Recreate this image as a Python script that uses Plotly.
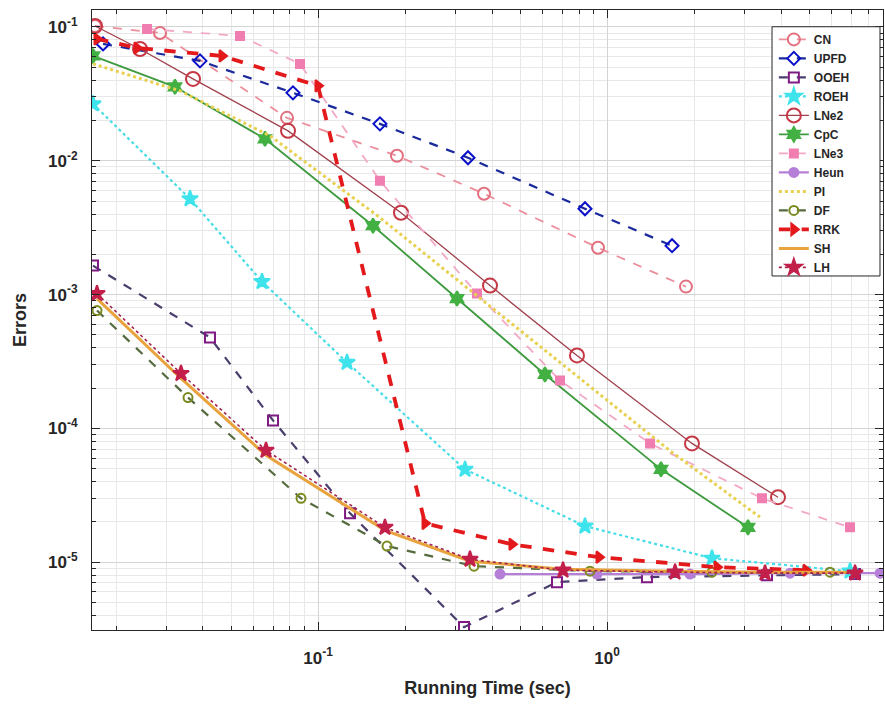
import plotly.graph_objects as go

# ---------------- data ----------------
cn_t   = [0.01692, 0.0284, 0.07812, 0.1876, 0.3754, 0.9309, 1.876]
cn_e   = [0.1017, 0.0902, 0.02094, 0.0109, 5.67e-3, 2.24e-3, 1.147e-3]

upfd_t = [0.01804, 0.03906, 0.08193, 0.1638, 0.3304, 0.8391, 1.679]
upfd_e = [0.0747, 0.0558, 0.0322, 0.01888, 0.01053, 4.38e-3, 2.32e-3]

ooeh_t = [0.01665, 0.04229, 0.06988, 0.1291, 0.3200, 0.6714, 1.375, 3.578, 7.214]
ooeh_e = [1.646e-3, 4.78e-4, 1.147e-4, 2.32e-5, 3.27e-6, 7.09e-6, 7.73e-6, 8.00e-6, 8.14e-6]

roeh_t = [0.01665, 0.03607, 0.0640, 0.1260, 0.3226, 0.8391, 2.308, 6.932]
roeh_e = [0.0266, 5.20e-3, 1.25e-3, 3.11e-4, 4.94e-5, 1.86e-5, 1.07e-5, 8.57e-6]

lne2_t = [0.01692, 0.02422, 0.03694, 0.07875, 0.1937, 0.3937, 0.7872, 1.968, 3.906]
lne2_e = [0.1017, 0.0685, 0.0409, 0.01674, 4.09e-3, 1.167e-3, 3.51e-4, 7.72e-5, 3.06e-5]

cpc_t  = [0.01665, 0.0320, 0.06555, 0.155, 0.3027, 0.6101, 1.538, 3.075]
cpc_e  = [0.0608, 0.0357, 0.01459, 3.27e-3, 9.34e-4, 2.53e-4, 4.94e-5, 1.82e-5]

lne3_t = [0.02561, 0.05372, 0.08664, 0.1638, 0.3549, 0.6877, 1.409, 3.438, 6.932]
lne3_e = [0.0966, 0.0857, 0.0530, 7.09e-3, 1.017e-3, 2.28e-4, 7.72e-5, 3.00e-5, 1.82e-5]

heun_t = [0.4264, 0.9235, 1.937, 4.298, 8.804]
heun_e = [8.14e-6, 8.14e-6, 8.14e-6, 8.28e-6, 8.28e-6]

pi_t   = [0.01665, 0.03331, 0.06822, 0.1638, 0.3304, 0.6877, 1.679, 3.383]
pi_e   = [0.0530, 0.0333, 0.01537, 3.76e-3, 1.109e-3, 3.11e-4, 6.62e-5, 2.17e-5]

df_t   = [0.01719, 0.0355, 0.08734, 0.1733, 0.3466, 0.8733, 2.308, 5.91]
df_e   = [7.60e-4, 1.70e-4, 3.00e-5, 1.32e-5, 9.34e-6, 8.57e-6, 8.42e-6, 8.42e-6]

rrk_t  = [0.01719, 0.02364, 0.04655, 0.1, 0.2346, 0.469, 0.9382, 2.402, 4.883]
rrk_e  = [0.0814, 0.0697, 0.0608, 0.0363, 1.95e-5, 1.36e-5, 1.09e-5, 9.18e-6, 8.71e-6]

sh_t   = [0.01719, 0.03357, 0.06608, 0.1705, 0.3357, 0.7043, 1.720, 3.522, 7.214]
sh_e   = [9.34e-4, 2.36e-4, 6.29e-5, 1.73e-5, 1.017e-5, 8.87e-6, 8.57e-6, 8.42e-6, 8.42e-6]

lh_t   = [0.01719, 0.03357, 0.06608, 0.1705, 0.3357, 0.7043, 1.720, 3.522, 7.214]
lh_e   = [1.017e-3, 2.57e-4, 6.85e-5, 1.82e-5, 1.05e-5, 8.71e-6, 8.42e-6, 8.28e-6, 8.28e-6]

y_tick_vals = [1e-5, 1e-4, 1e-3, 1e-2, 1e-1]
y_tick_text = ["10<sup>-5</sup>", "10<sup>-4</sup>", "10<sup>-3</sup>", "10<sup>-2</sup>", "10<sup>-1</sup>"]
x_tick_vals = [1e-1, 1e0]
x_tick_text = ["10<sup>-1</sup>", "10<sup>0</sup>"]

# ---------------- figure ----------------
fig = go.Figure()

def add(name, t, e, color, dash, width, symbol=None, msize=8, mcolor=None, mline=None, filled=False):
    mode = "lines+markers" if symbol else "lines"
    marker = None
    if symbol:
        marker = dict(symbol=symbol, size=msize,
                      color=(mcolor if filled else "rgba(255,255,255,0)"),
                      line=dict(color=mline or mcolor or color, width=2))
    fig.add_trace(go.Scatter(x=t, y=e, name=name, mode=mode,
                             line=dict(color=color, dash=dash, width=width),
                             marker=marker))

add("CN",   cn_t,   cn_e,   "#EC8F9C", "dash", 1.8, "circle", 12, mline="#E2707F")
add("UPFD", upfd_t, upfd_e, "#1A2A9C", "dash", 2.2, "diamond", 10, mline="#0A10C8")
add("OOEH", ooeh_t, ooeh_e, "#4B3E6E", "dash", 2.2, "square", 10, mline="#7E1A82")
add("ROEH", roeh_t, roeh_e, "#45DDE6", "dot", 2.2, "star", 12, mcolor="#3FE3EC", filled=True)
add("LNe2", lne2_t, lne2_e, "#A0404C", "solid", 1.3, "circle", 14, mline="#C53845")
add("CpC",  cpc_t,  cpc_e,  "#3E9A3E", "solid", 1.8, "hexagram", 11, mcolor="#42B042", filled=True)
add("LNe3", lne3_t, lne3_e, "#F2A8C6", "dash", 1.8, "square", 8, mcolor="#F07EB0", filled=True)
add("Heun", heun_t, heun_e, "#B57FD8", "solid", 2.2, "circle", 9, mcolor="#B57FD8", filled=True)
add("PI",   pi_t,   pi_e,   "#E8D050", "dot", 3.0)
add("DF",   df_t,   df_e,   "#556B3F", "dash", 2.2, "circle", 9, mline="#7B8A1E")
add("RRK",  rrk_t,  rrk_e,  "#E3191C", "dash", 3.8, "triangle-right", 10, mcolor="#E3191C", filled=True)
add("SH",   sh_t,   sh_e,   "#E8A33C", "solid", 3.0)
add("LH",   lh_t,   lh_e,   "#A3204E", "dot", 1.6, "star", 12, mcolor="#C2204A", filled=True)

axis_common = dict(
    type="log", showline=True, linecolor="#262626", linewidth=1.2, mirror="allticks",
    ticks="inside", ticklen=8, tickcolor="#262626", automargin=False,
    showgrid=True, gridcolor="#D4D4D4", gridwidth=1, zeroline=False,
    tickfont=dict(family="Liberation Sans, Arial", size=17, color="#262626", weight="bold"),
    minor=dict(dtick="D1", ticks="inside", ticklen=4, tickcolor="#262626",
               showgrid=True, gridcolor="#E8E8E8", gridwidth=1),
)

fig.update_xaxes(**axis_common, range=[-1.782, 0.955], tickmode="array",
                 tickvals=x_tick_vals, ticktext=x_tick_text, ticklabelstandoff=12,
                 title=dict(text="<b>Running Time (sec)</b>", standoff=14,
                            font=dict(family="Liberation Sans, Arial", size=18, color="#262626")))
fig.update_yaxes(**axis_common, range=[-5.507, -0.873], tickmode="array",
                 tickvals=y_tick_vals, ticktext=y_tick_text, ticklabelstandoff=10,
                 title=dict(text="<b>Errors</b>", standoff=16,
                            font=dict(family="Liberation Sans, Arial", size=18, color="#262626")))

# legend frame (drawn as a box like the reference)
fig.add_shape(type="rect", xref="paper", yref="paper",
              x0=0.8597, x1=0.9962, y0=0.571, y1=0.973,
              line=dict(color="#262626", width=1), fillcolor="white", layer="above")

fig.update_layout(
    width=885, height=704,
    margin=dict(l=92, r=2, t=10, b=74, autoexpand=False),
    plot_bgcolor="white", paper_bgcolor="white",
    legend=dict(x=0.862, y=0.976, xanchor="left", yanchor="top",
                bgcolor="rgba(0,0,0,0)", borderwidth=0,
                font=dict(family="Liberation Sans, Arial", size=12, color="#262626", weight="bold"),
                tracegroupgap=0, itemwidth=30),
    showlegend=True,
)

fig.write_html("out.html", config={"responsive": False, "displayModeBar": False},
               post_script="document.body.style.margin='0px';document.body.style.padding='0px';")
